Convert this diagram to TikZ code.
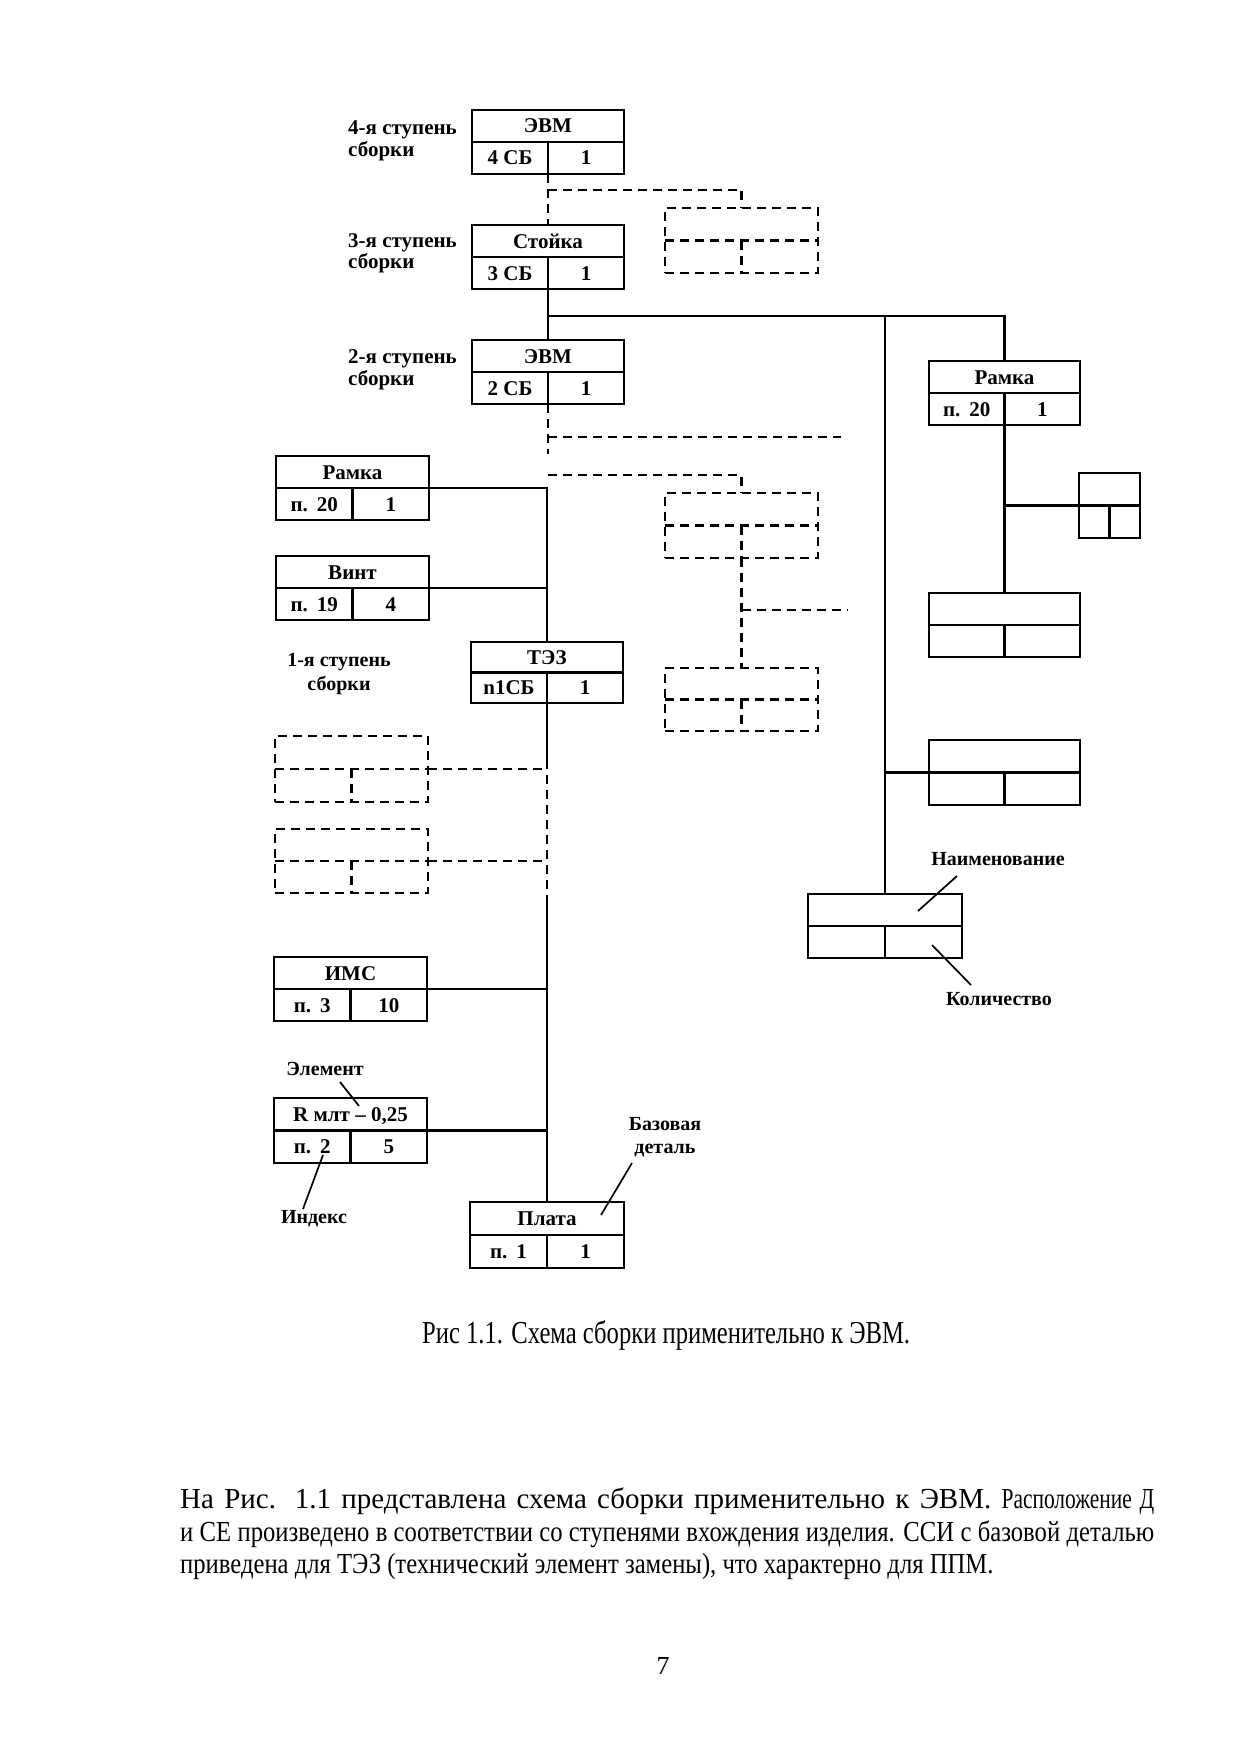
\documentclass[tikz,border=0pt]{standalone}
\usepackage{fontspec}
\setmainfont{Liberation Serif}
\newfontfamily\cfont{Liberation Serif}[FakeStretch=0.85]
\newfontfamily\capfont{Liberation Serif}[FakeStretch=0.77]
\newfontfamily\tightfont{Liberation Serif}[FakeStretch=0.74]
\usetikzlibrary{fit,calc}
\tikzset{
  solidln/.style={line width=2.7pt},
  dsh/.style={line width=2.7pt, dash pattern=on 9pt off 6pt},
  thinln/.style={line width=1.7pt},
  boxframe/.style={draw, inner sep=0pt, outer sep=0pt},
  btxt/.style={font=\bfseries\fontsize{21}{25}\selectfont, inner sep=0pt, text height=14pt, text depth=0pt},
  lbl/.style={font=\bfseries\fontsize{21}{24}\selectfont, inner sep=0pt, anchor=base west},
  notetxt/.style={font=\bfseries\fontsize{20}{24}\selectfont, inner sep=0pt, anchor=base},
  stagetxt/.style={font=\bfseries\fontsize{20}{24}\selectfont, inner sep=0pt, anchor=base},
}
\newcommand\mkbox[9][]{%
  \coordinate (#2-nw) at (#3,#4);
  \coordinate (#2-se) at (#5,#6);
  \node[boxframe,solidln,#1,fit=(#2-nw)(#2-se)] (#2) {};
  \draw[solidln,#1] (#2.west) -- (#2.east);
  \draw[solidln,#1] (#2.center) -- (#2.south);
  \node[btxt] (#2-t) at ($(#2.north)!0.5!(#2.center)$) {#7};
  \node[btxt] (#2-l) at ($(#2.south west)!0.5!(#2.center)$) {#8};
  \node[btxt] (#2-r) at ($(#2.south east)!0.5!(#2.center)$) {#9};
}
\begin{document}
\begin{tikzpicture}[x=1pt,y=-1pt]
\useasboundingbox (0,0) rectangle (1241,1755);
\fill[white] (0,0) rectangle (1241,1755);

% ---- stage labels
\node[lbl] (l4a) at (348,135) {4-я ступень};
\node[lbl] (l4b) at (348,157) {сборки};
\node[lbl] (l3a) at (348,247) {3-я ступень};
\node[lbl] (l3b) at (348,268) {сборки};
\node[lbl] (l2a) at (348,363) {2-я ступень};
\node[lbl] (l2b) at (348,385) {сборки};
\node[stagetxt] (l1a) at (339,666) {1-я ступень};
\node[stagetxt] (l1b) at (339,690) {сборки};

% ---- main column
\mkbox{evm4}{472}{110}{624}{174}{ЭВМ}{4 СБ}{1}
\mkbox{stoika}{472}{225}{624}{289}{Стойка}{3 СБ}{1}
\mkbox{evm2}{472}{340}{624}{404}{ЭВМ}{2 СБ}{1}
\mkbox[dsh]{dt}{665}{208}{818}{273}{}{}{}

% ---- right branch
\mkbox{ramkaR}{929}{361}{1080}{425}{Рамка}{п.\hspace{9pt}20}{1}
\mkbox{small}{1079}{473}{1140}{538}{}{}{}
\mkbox{boxA}{929}{593}{1080}{657}{}{}{}
\mkbox{boxB}{929}{740}{1080}{805}{}{}{}
\mkbox{boxC}{808}{894}{962}{958}{}{}{}

% ---- dashed middle
\mkbox[dsh]{d1}{665}{493}{818}{558}{}{}{}
\mkbox[dsh]{d2}{665}{668}{818}{731}{}{}{}

% ---- left column
\mkbox{ramkaL}{276}{456}{429}{520}{Рамка}{п.\hspace{9pt}20}{1}
\mkbox{vint}{276}{556}{429}{620}{Винт}{п.\hspace{9pt}19}{4}
\mkbox{tez}{471}{642}{623}{703}{ТЭЗ}{n1СБ}{1}
\mkbox[dsh]{e1}{275}{736}{428}{802}{}{}{}
\mkbox[dsh]{e2}{275}{829}{428}{893}{}{}{}
\mkbox{ims}{274}{957}{427}{1021}{ИМС}{п.\hspace{9pt}3}{10}
\mkbox{rmlt}{274}{1098}{427}{1163}{R млт – 0,25}{п.\hspace{9pt}2}{5}
\mkbox{plata}{470}{1202}{624}{1268}{Плата}{п.\hspace{9pt}1}{1}

% ---- connectors, top part
\coordinate (ja) at (548,190);
\draw[dsh] (evm4.south) -- (stoika.north);
\draw[dsh] (ja) -| (dt.north);
\draw[solidln] (stoika.south) -- (evm2.north);
\coordinate (jb) at (548,316);
\coordinate (jc) at (885,316);
\draw[solidln] (jb) -| (ramkaR.north);
\draw[solidln] (jc) -- (boxC.north);
\draw[solidln] (jc |- boxB.west) -- (boxB.west);
\draw[solidln] (ramkaR.south) -- (boxA.north);
\draw[solidln] (ramkaR.south |- small.west) -- (small.west);

% ---- dashed below ЭВМ2
\coordinate (je) at (548,454);
\draw[dsh] (evm2.south) -- (je);
\coordinate (jf) at (548,437);
\coordinate (jf2) at (841,437);
\draw[dsh] (jf) -- (jf2);
\coordinate (jg) at (548,475);
\draw[dsh] (jg) -| (d1.north);
\draw[dsh] (d1.south) -- (d2.north);
\coordinate (jh) at (741.5,610);
\coordinate (jh2) at (848,610);
\draw[dsh] (jh) -- (jh2);

% ---- left assembly
\draw[solidln] (ramkaL.east) -- (ramkaL.east -| tez.north) -- (tez.north);
\draw[solidln] (vint.east) -- (vint.east -| tez.north);
\coordinate (j1) at (547,760);
\coordinate (j2) at (547,900);
\draw[solidln] (tez.south) -- (j1);
\draw[dsh] (j1) -- (j2);
\draw[solidln] (j2) -- (plata.north);
\draw[dsh] (e1.east) -- (e1.east -| tez.south);
\draw[dsh] (e2.east) -- (e2.east -| tez.south);
\draw[solidln] (ims.east) -- (ims.east -| tez.south);
\draw[solidln] (rmlt.east) -- (rmlt.east -| tez.south);

% ---- annotations
\node[notetxt] (nElem) at (325,1075) {Элемент};
\coordinate (le1) at (340,1082); \coordinate (le2) at (359,1106);
\draw[thinln] (le1) -- (le2);
\node[notetxt] (nInd) at (314,1223) {Индекс};
\coordinate (li1) at (323,1155); \coordinate (li2) at (303,1209);
\draw[thinln] (li1) -- (li2);
\node[notetxt] (nBaz1) at (665,1130) {Базовая};
\node[notetxt] (nBaz2) at (665,1153) {деталь};
\coordinate (lb1) at (632,1163); \coordinate (lb2) at (601,1215);
\draw[thinln] (lb1) -- (lb2);
\node[notetxt] (nName) at (998,865) {Наименование};
\coordinate (ln1) at (957,876); \coordinate (ln2) at (918,911);
\draw[thinln] (ln1) -- (ln2);
\node[notetxt] (nQty) at (999,1005) {Количество};
\coordinate (lq1) at (932,945); \coordinate (lq2) at (971,985);
\draw[thinln] (lq1) -- (lq2);

% ---- caption and text
\node[anchor=base west, inner sep=0pt, font=\capfont\fontsize{32}{36}\selectfont] (cap) at (422,1343) {Рис 1.1. Схема сборки применительно к ЭВМ.};
\node[anchor=base west, inner sep=0pt, font=\fontsize{29}{34}\selectfont] (p1) at (180,1508)
  {\makebox[974pt][s]{На Рис. 1.1 представлена схема сборки применительно к ЭВМ. {\tightfont Расположение Д}}};
\node[anchor=base west, inner sep=0pt, font=\fontsize{29}{34}\selectfont] (p2) at (180,1541)
  {\makebox[974pt][s]{\cfont и СЕ произведено в соответствии со ступенями вхождения изделия. ССИ с базовой деталью}};
\node[anchor=base west, inner sep=0pt, font=\fontsize{29}{34}\selectfont] (p3) at (180,1573)
  {\cfont приведена для ТЭЗ (технический элемент замены), что характерно для ППМ.};
\node[anchor=base, inner sep=0pt, font=\fontsize{26}{28}\selectfont] (pg) at (663,1674) {7};
\end{tikzpicture}
\end{document}
